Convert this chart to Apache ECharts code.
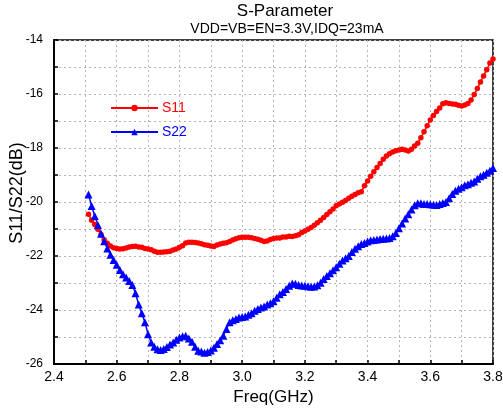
<!DOCTYPE html>
<html>
<head>
<meta charset="utf-8">
<script src="https://cdn.jsdelivr.net/npm/echarts@6/dist/echarts.min.js"></script>
<style>html,body{margin:0;padding:0;background:#fff;}#c{width:503px;height:410px;}</style>
</head>
<body>
<div id="c"></div>
<script>
const titleText = 'S-Parameter';
const subtitleText = 'VDD=VB=EN=3.3V,IDQ=23mA';
const xName = 'Freq(GHz)';
const yName = 'S11/S22(dB)';
const seriesNames = ['S11', 'S22'];
// frequency grid: 2.51 .. 3.80 GHz, 0.01 GHz step
const freqStart = 2.51;
const freqStep = 0.01;
const s11 = [
-20.45,-20.68,-20.83,-21.01,-21.20,-21.40,-21.53,-21.63,-21.69,-21.72,
-21.74,-21.73,-21.70,-21.67,-21.65,-21.64,-21.67,-21.68,-21.72,-21.74,
-21.77,-21.82,-21.86,-21.86,-21.85,-21.84,-21.82,-21.78,-21.74,-21.68,
-21.62,-21.52,-21.49,-21.49,-21.50,-21.52,-21.55,-21.58,-21.60,-21.63,
-21.65,-21.59,-21.56,-21.53,-21.51,-21.46,-21.41,-21.36,-21.32,-21.31,
-21.31,-21.31,-21.32,-21.35,-21.38,-21.42,-21.46,-21.44,-21.39,-21.35,
-21.33,-21.33,-21.30,-21.30,-21.27,-21.28,-21.25,-21.21,-21.13,-21.07,
-21.01,-20.94,-20.86,-20.77,-20.68,-20.57,-20.46,-20.36,-20.26,-20.14,
-20.07,-20.01,-19.94,-19.86,-19.79,-19.72,-19.66,-19.62,-19.40,-19.22,
-19.05,-18.88,-18.72,-18.57,-18.42,-18.30,-18.21,-18.15,-18.10,-18.07,
-18.05,-18.07,-18.11,-18.05,-17.93,-17.82,-17.62,-17.40,-17.18,-16.96,
-16.80,-16.65,-16.52,-16.36,-16.32,-16.35,-16.37,-16.38,-16.42,-16.44,
-16.41,-16.35,-16.22,-16.02,-15.80,-15.56,-15.33,-15.10,-14.85,-14.70
];
const s22 = [
-19.72,-20.15,-20.52,-20.85,-21.18,-21.45,-21.72,-21.95,-22.15,-22.32,
-22.52,-22.68,-22.80,-22.93,-23.07,-23.38,-23.80,-24.12,-24.45,-24.90,
-25.20,-25.36,-25.45,-25.48,-25.44,-25.37,-25.28,-25.20,-25.10,-25.02,
-24.97,-24.95,-25.06,-25.18,-25.36,-25.51,-25.54,-25.58,-25.56,-25.50,
-25.40,-25.26,-25.12,-24.95,-24.70,-24.45,-24.38,-24.33,-24.28,-24.26,
-24.24,-24.18,-24.12,-24.03,-23.96,-23.91,-23.87,-23.80,-23.75,-23.68,
-23.55,-23.42,-23.33,-23.22,-23.10,-23.02,-23.03,-23.07,-23.09,-23.10,
-23.12,-23.14,-23.13,-23.08,-22.99,-22.85,-22.74,-22.64,-22.53,-22.42,
-22.29,-22.17,-22.08,-22.00,-21.85,-21.73,-21.64,-21.56,-21.52,-21.46,
-21.42,-21.41,-21.39,-21.37,-21.36,-21.35,-21.33,-21.27,-21.15,-20.97,
-20.80,-20.61,-20.45,-20.28,-20.12,-20.05,-20.05,-20.07,-20.07,-20.08,
-20.10,-20.11,-20.07,-20.04,-20.00,-19.86,-19.70,-19.58,-19.51,-19.45,
-19.38,-19.34,-19.29,-19.24,-19.14,-19.05,-18.99,-18.92,-18.84,-18.74
];
const xMin = 2.4, xMax = 3.8, xInterval = 0.2;
const yMin = -26, yMax = -14, yInterval = 2;

function pairs(vals) {
  return vals.map((v, i) => [+(freqStart + i * freqStep).toFixed(2), v]);
}

const FONT = '"Liberation Sans", Arial, sans-serif';
const chart = echarts.init(document.getElementById('c'), null, {renderer: 'canvas'});
const dotted = {show: true, lineStyle: {color: '#b4b4b4', type: [2, 3], width: 1}};
chart.setOption({
  animation: false,
  backgroundColor: '#fff',
  title: [
    {text: titleText, left: 285, top: 3, textAlign: 'center', padding: 0,
     textStyle: {fontFamily: FONT, fontSize: 17, fontWeight: 'normal', color: '#000'}},
    {text: subtitleText, left: 287, top: 22, textAlign: 'center', padding: 0,
     textStyle: {fontFamily: FONT, fontSize: 14, fontWeight: 'normal', color: '#000'}}
  ],
  graphic: [
    {type: 'text', x: 17.5, y: 193, rotation: Math.PI / 2,
     style: {text: yName, align: 'center', verticalAlign: 'middle', fill: '#000',
             font: '18px "Liberation Sans", Arial, sans-serif'}}
  ],
  legend: {
    orient: 'vertical', left: 110, top: 101, padding: 0, itemWidth: 47, itemHeight: 8, itemGap: 10,
    data: [
      {name: seriesNames[0], textStyle: {color: '#ff0000'}},
      {name: seriesNames[1], textStyle: {color: '#0000ff'}}
    ],
    textStyle: {fontFamily: FONT, fontSize: 14, padding: [0, 0, 0, -1]}
  },
  grid: {left: 54, right: 10, top: 40, bottom: 46, show: true, borderColor: '#000', borderWidth: 1.5,
         containLabel: false, outerBoundsMode: 'none'},
  xAxis: {
    type: 'value', min: xMin, max: xMax, interval: xInterval,
    name: xName, nameLocation: 'middle', nameGap: 24,
    nameTextStyle: {fontFamily: FONT, fontSize: 17, color: '#000'},
    axisLine: {show: true, onZero: false, lineStyle: {color: '#000', width: 2}},
    axisTick: {show: true, inside: true, length: 4, lineStyle: {color: '#000', width: 1.5}},
    minorTick: {show: true, splitNumber: 2, length: 4, lineStyle: {color: '#000', width: 1.5}},
    axisLabel: {fontFamily: FONT, fontSize: 14, color: '#000', margin: 6, formatter: v => v.toFixed(1)},
    splitLine: dotted,
    minorSplitLine: dotted
  },
  yAxis: {
    type: 'value', min: yMin, max: yMax, interval: yInterval,
    axisLine: {show: true, onZero: false, lineStyle: {color: '#000', width: 2}},
    axisTick: {show: true, inside: true, length: 4, lineStyle: {color: '#000', width: 1.5}},
    minorTick: {show: true, splitNumber: 2, length: 4, lineStyle: {color: '#000', width: 1.5}},
    axisLabel: {fontFamily: FONT, fontSize: 12, color: '#000', margin: 11},
    splitLine: dotted,
    minorSplitLine: dotted
  },
  series: [
    {name: seriesNames[0], type: 'line', data: pairs(s11), symbol: 'circle', symbolSize: 5.5,
     showAllSymbol: true, color: '#ff0000', lineStyle: {width: 1.5, color: '#ff0000'},
     itemStyle: {color: '#ff0000'}},
    {name: seriesNames[1], type: 'line', data: pairs(s22), symbol: 'triangle', symbolSize: 8,
     showAllSymbol: true, color: '#0000ff', lineStyle: {width: 1.5, color: '#0000ff'},
     itemStyle: {color: '#0000ff'}}
  ]
});
</script>
</body>
</html>
